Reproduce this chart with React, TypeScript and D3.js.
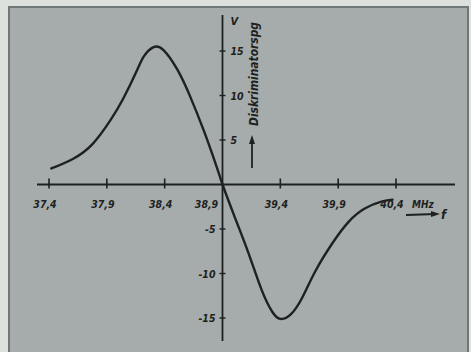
import React, { useEffect, useRef } from "react"
import * as d3 from "d3"

// discriminator curve
const freq = [37.42, 37.61, 37.78, 37.93, 38.04, 38.16, 38.22, 38.3, 38.39, 38.51, 38.62, 38.74, 38.82, 38.87, 38.9, 39.01, 39.13, 39.24, 39.33, 39.4, 39.49, 39.59, 39.7, 39.85, 39.99, 40.13, 40.28, 40.37]
const volt = [1.8, 2.9, 4.6, 7.2, 9.6, 12.8, 14.4, 15.4, 15.1, 12.9, 9.9, 6.0, 3.1, 1.2, 0, -3.8, -7.9, -11.9, -14.3, -15.1, -14.6, -12.7, -9.8, -6.6, -4.2, -2.7, -1.9, -1.7]

const xTicks = [37.4, 37.9, 38.4, 38.9, 39.4, 39.9, 40.4]
const xTickLabels = ["37,4", "37,9", "38,4", "38,9", "39,4", "39,9", "40,4"]
const yTicks = [15, 10, 5, -5, -10, -15]

function App() {
    const svgRef = useRef(null)

    useEffect(() => {
        const width = 471
        const height = 352
        const font = "'DejaVu Sans Condensed', 'DejaVu Sans', sans-serif"

        const svg = d3.select(svgRef.current)
        svg.selectAll("*").remove()
        svg.attr("width", width).attr("height", height)

        // paper + photographed panel
        svg.append("rect").attr("width", width).attr("height", height).attr("fill", "#dde1de")
        svg.append("rect")
            .attr("x", 9).attr("y", 7).attr("width", 459).attr("height", 350)
            .attr("fill", "#a5acab")
            .attr("stroke", "#6f7877")
            .attr("stroke-width", 2)

        const x = d3.scaleLinear().domain([37.4, 40.4]).range([49, 396])
        const y = d3.scaleLinear().domain([-15, 15]).range([318, 51])

        const ink = "#1d2120"
        const txt = (sel, size = 10.5) =>
            sel.attr("font-family", font)
                .attr("font-style", "italic")
                .attr("font-weight", "bold")
                .attr("font-size", size)
                .attr("fill", ink)

        // x axis
        svg.append("line")
            .attr("x1", 37).attr("x2", 455)
            .attr("y1", y(0)).attr("y2", y(0))
            .attr("stroke", ink).attr("stroke-width", 1.8)

        // y axis
        svg.append("line")
            .attr("x1", x(38.9)).attr("x2", x(38.9))
            .attr("y1", 15).attr("y2", 341)
            .attr("stroke", ink).attr("stroke-width", 1.8)

        const xt = svg.append("g")
        xt.selectAll("line")
            .data(xTicks.filter((d) => d !== 38.9))
            .join("line")
            .attr("x1", (d) => x(d)).attr("x2", (d) => x(d))
            .attr("y1", y(0) - 6).attr("y2", y(0) + 4)
            .attr("stroke", ink).attr("stroke-width", 1.6)

        xt.selectAll("text")
            .data(xTicks)
            .join("text")
            .attr("x", (d) => (d === 38.9 ? x(d) - 16 : x(d) - 4))
            .attr("y", y(0) + 23)
            .attr("text-anchor", "middle")
            .call(txt)
            .text((d, i) => xTickLabels[i])

        svg.append("text")
            .attr("x", x(40.4) + 16)
            .attr("y", y(0) + 23)
            .call(txt, 10)
            .text("MHz")

        // f arrow
        svg.append("line")
            .attr("x1", 406).attr("x2", 436)
            .attr("y1", 215).attr("y2", 214)
            .attr("stroke", ink).attr("stroke-width", 1.8)
        svg.append("path")
            .attr("d", "M440,214 L431,211 L431,217 Z")
            .attr("fill", ink)
        svg.append("text")
            .attr("x", 441).attr("y", 219)
            .call(txt, 13)
            .text("f")

        // y ticks
        const yt = svg.append("g")
        yt.selectAll("line")
            .data(yTicks)
            .join("line")
            .attr("x1", x(38.9) - 3).attr("x2", x(38.9) + 3)
            .attr("y1", (d) => y(d)).attr("y2", (d) => y(d))
            .attr("stroke", ink).attr("stroke-width", 1.4)

        yt.selectAll("text")
            .data(yTicks)
            .join("text")
            .attr("x", (d) => (d > 0 ? x(38.9) + 8 : x(38.9) - 7))
            .attr("y", (d) => y(d) + 4)
            .attr("text-anchor", (d) => (d > 0 ? "start" : "end"))
            .call(txt)
            .text((d) => (d > 0 ? String(d) : "-" + Math.abs(d)))

        svg.append("text")
            .attr("x", x(38.9) + 8).attr("y", 25)
            .call(txt, 11)
            .text("V")

        // rotated quantity label with arrow
        svg.append("text")
            .attr("transform", "translate(258,126) rotate(-90)")
            .attr("textLength", 104)
            .attr("lengthAdjust", "spacingAndGlyphs")
            .call(txt, 12)
            .text("Diskriminatorspg")
        svg.append("line")
            .attr("x1", 252).attr("x2", 252)
            .attr("y1", 168).attr("y2", 141)
            .attr("stroke", ink).attr("stroke-width", 1.8)
        svg.append("path")
            .attr("d", "M252,135 L249,144 L255,144 Z")
            .attr("fill", ink)

        // curve
        const pts = freq.map((f, i) => [f, volt[i]])
        const line = d3.line()
            .x((d) => x(d[0]))
            .y((d) => y(d[1]))
            .curve(d3.curveNatural)

        svg.append("path")
            .datum(pts)
            .attr("d", line)
            .attr("fill", "none")
            .attr("stroke", ink)
            .attr("stroke-width", 2.4)
            .attr("stroke-linecap", "round")
    }, [])

    return (
        <svg
            ref={svgRef}
            style={{ position: "absolute", left: 0, top: 0, display: "block" }}
        />
    )
}

export default App
